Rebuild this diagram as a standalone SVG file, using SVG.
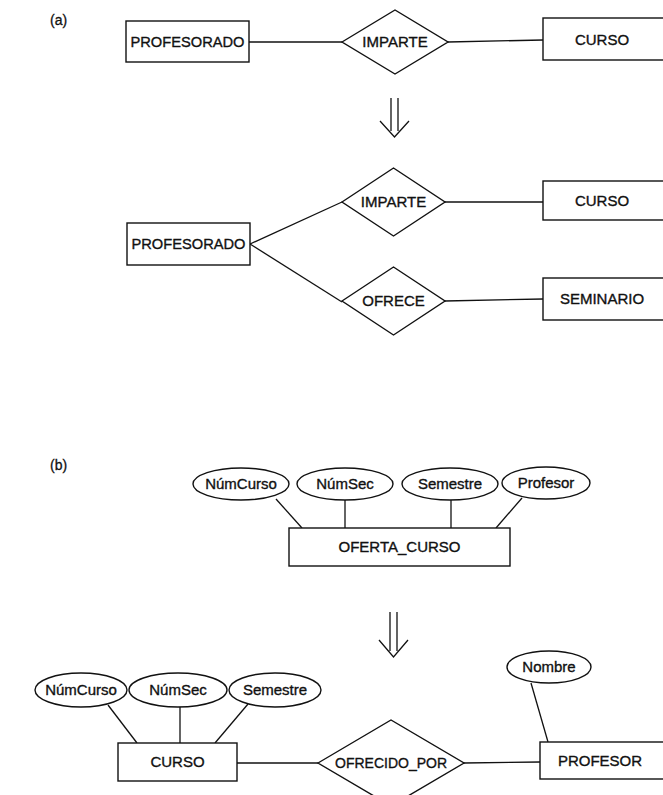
<svg xmlns="http://www.w3.org/2000/svg" width="663" height="795" viewBox="0 0 663 795">
  <style>
    .shape { fill: #ffffff; stroke: #111111; stroke-width: 1.4; }
    .link { fill: none; stroke: #111111; stroke-width: 1.3; }
    .label { font-family: "Liberation Sans", Arial, Helvetica, sans-serif; font-size: 15px; fill: #111111; stroke: #111111; stroke-width: 0.35; text-anchor: middle; }
    .tag { font-family: "Liberation Sans", Arial, Helvetica, sans-serif; font-size: 14px; fill: #111111; stroke: #111111; stroke-width: 0.3; }
  </style>
  <rect width="663" height="795" fill="#ffffff"/>

  <!-- part (a) -->
  <text class="tag" x="50" y="25">(a)</text>

  <g id="connectors-a">
    <line class="link" x1="249" y1="42" x2="342" y2="42"/>
    <line class="link" x1="448" y1="42" x2="543" y2="40"/>
    <line class="link" x1="250" y1="244" x2="342" y2="202"/>
    <line class="link" x1="250" y1="244" x2="342" y2="302"/>
    <line class="link" x1="445" y1="202" x2="543" y2="202"/>
    <line class="link" x1="445" y1="301" x2="543" y2="299"/>
  </g>

  <g id="a-profesorado">
    <rect class="shape" x="126" y="21" width="123" height="41"/>
    <text class="label" x="187.5" y="47" textLength="114" lengthAdjust="spacingAndGlyphs">PROFESORADO</text>
  </g>
  <g id="a-imparte">
    <polygon class="shape" points="342,42 395,10 448,42 395,74"/>
    <text class="label" x="395" y="47">IMPARTE</text>
  </g>
  <g id="a-curso">
    <rect class="shape" x="543" y="18" width="130" height="42"/>
    <text class="label" x="602" y="45">CURSO</text>
  </g>

  <!-- transformation arrow (a) -->
  <g id="a-arrow">
    <line class="link" x1="391" y1="98" x2="391" y2="131"/>
    <line class="link" x1="398" y1="98" x2="398" y2="131"/>
    <polyline class="link" points="380,121 394.5,137 409,121"/>
  </g>

  <g id="a2-profesorado">
    <rect class="shape" x="127" y="223" width="123" height="42"/>
    <text class="label" x="188.5" y="249" textLength="114" lengthAdjust="spacingAndGlyphs">PROFESORADO</text>
  </g>
  <g id="a2-imparte">
    <polygon class="shape" points="342,202 393.5,168 445,202 393.5,236"/>
    <text class="label" x="393.5" y="207">IMPARTE</text>
  </g>
  <g id="a2-ofrece">
    <polygon class="shape" points="342,301 393.5,267 445,301 393.5,335"/>
    <text class="label" x="393.5" y="306">OFRECE</text>
  </g>
  <g id="a2-curso">
    <rect class="shape" x="543" y="181" width="130" height="39"/>
    <text class="label" x="602" y="206">CURSO</text>
  </g>
  <g id="a2-seminario">
    <rect class="shape" x="543" y="278" width="130" height="42"/>
    <text class="label" x="602" y="304">SEMINARIO</text>
  </g>

  <!-- part (b) -->
  <text class="tag" x="50" y="470">(b)</text>

  <g id="connectors-b">
    <line class="link" x1="276" y1="499" x2="302" y2="528"/>
    <line class="link" x1="345" y1="500" x2="345" y2="528"/>
    <line class="link" x1="451" y1="500" x2="451" y2="528"/>
    <line class="link" x1="522" y1="498" x2="496" y2="528"/>
    <line class="link" x1="108" y1="705" x2="137" y2="743"/>
    <line class="link" x1="180" y1="706" x2="180" y2="743"/>
    <line class="link" x1="248" y1="704" x2="215" y2="743"/>
    <line class="link" x1="237" y1="763" x2="318" y2="763"/>
    <line class="link" x1="464" y1="763" x2="540" y2="762"/>
    <line class="link" x1="531" y1="683" x2="548" y2="742"/>
  </g>

  <g id="b-numcurso">
    <ellipse class="shape" cx="241" cy="484" rx="48" ry="16"/>
    <text class="label" x="241" y="489">NúmCurso</text>
  </g>
  <g id="b-numsec">
    <ellipse class="shape" cx="345" cy="484" rx="48" ry="16"/>
    <text class="label" x="345" y="489">NúmSec</text>
  </g>
  <g id="b-semestre">
    <ellipse class="shape" cx="450" cy="484" rx="48" ry="16"/>
    <text class="label" x="450" y="489">Semestre</text>
  </g>
  <g id="b-profesor">
    <ellipse class="shape" cx="546" cy="483" rx="44" ry="16"/>
    <text class="label" x="546" y="488">Profesor</text>
  </g>
  <g id="b-oferta-curso">
    <rect class="shape" x="289" y="528" width="221" height="38"/>
    <text class="label" x="399.5" y="552">OFERTA_CURSO</text>
  </g>

  <!-- transformation arrow (b) -->
  <g id="b-arrow">
    <line class="link" x1="390" y1="612" x2="390" y2="651"/>
    <line class="link" x1="397" y1="612" x2="397" y2="651"/>
    <polyline class="link" points="379,640 393.5,657 408,640"/>
  </g>

  <g id="b2-numcurso">
    <ellipse class="shape" cx="81" cy="690" rx="46" ry="17"/>
    <text class="label" x="81" y="695">NúmCurso</text>
  </g>
  <g id="b2-numsec">
    <ellipse class="shape" cx="178" cy="690" rx="49" ry="17"/>
    <text class="label" x="178" y="695">NúmSec</text>
  </g>
  <g id="b2-semestre">
    <ellipse class="shape" cx="275" cy="690" rx="46" ry="17"/>
    <text class="label" x="275" y="695">Semestre</text>
  </g>
  <g id="b2-curso">
    <rect class="shape" x="118" y="743" width="119" height="38"/>
    <text class="label" x="177.5" y="767">CURSO</text>
  </g>
  <g id="b2-ofrecido-por">
    <polygon class="shape" points="318,763 391,720 464,763 391,806"/>
    <text class="label" x="391" y="768" textLength="112" lengthAdjust="spacingAndGlyphs">OFRECIDO_POR</text>
  </g>
  <g id="b2-nombre">
    <ellipse class="shape" cx="549" cy="667" rx="42" ry="16"/>
    <text class="label" x="549" y="672">Nombre</text>
  </g>
  <g id="b2-profesor">
    <rect class="shape" x="540" y="742" width="130" height="37"/>
    <text class="label" x="600" y="766">PROFESOR</text>
  </g>
</svg>
